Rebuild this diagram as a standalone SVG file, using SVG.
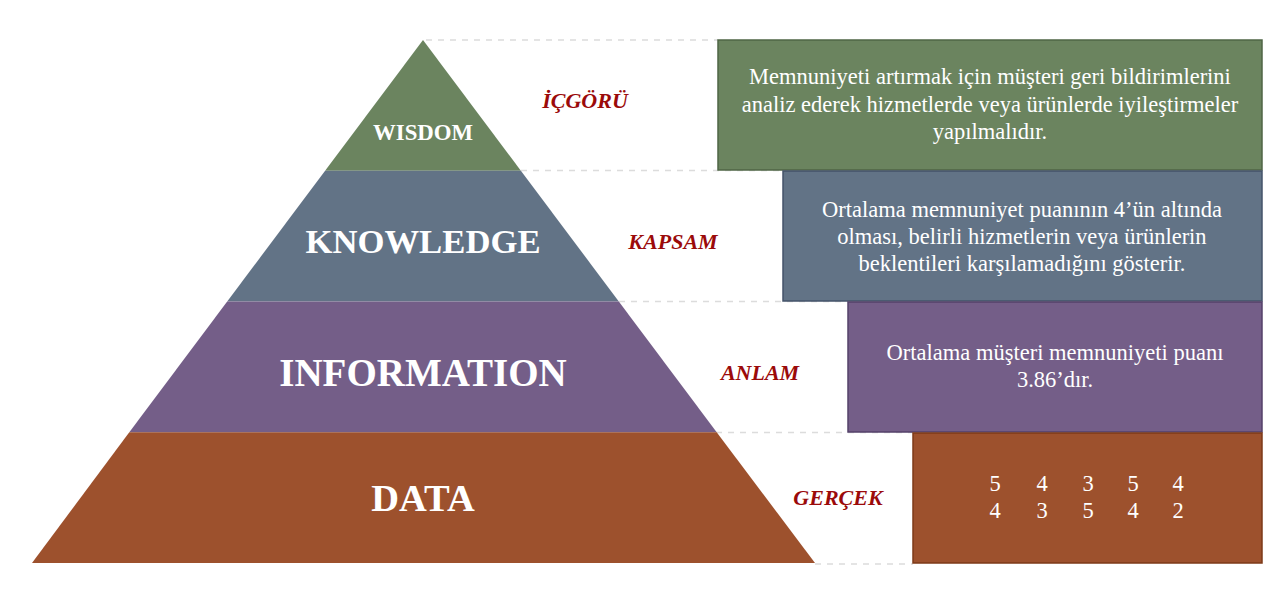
<svg xmlns="http://www.w3.org/2000/svg" width="1280" height="595" viewBox="0 0 1280 595">
  <style>
    .tier-label { font-family: "Liberation Serif", "Times New Roman", serif; font-weight: bold; fill: #ffffff; text-anchor: middle; }
    .side-label { font-family: "Liberation Serif", "Times New Roman", serif; font-weight: bold; font-style: italic; font-size: 22px; fill: #9b0a0a; text-anchor: middle; }
    .box-text { font-family: "Liberation Serif", "Times New Roman", serif; font-size: 22.5px; fill: #ffffff; text-anchor: middle; }
    .guide { stroke: #dcdcdc; stroke-width: 1.5; stroke-dasharray: 6 6; fill: none; }
    .box { stroke-width: 1.5; }
  </style>
  <rect width="1280" height="595" fill="#ffffff"/>

  <!-- dashed guide lines from the pyramid to the boxes -->
  <g id="connectors">
    <line class="guide" x1="426" y1="40" x2="718" y2="40"/>
    <line class="guide" x1="521" y1="170.5" x2="783" y2="170.5"/>
    <line class="guide" x1="619" y1="301.5" x2="848" y2="301.5"/>
    <line class="guide" x1="716" y1="432.5" x2="913" y2="432.5"/>
    <line class="guide" x1="815" y1="564" x2="913" y2="564"/>
  </g>

  <!-- pyramid tiers -->
  <g id="wisdom">
    <polygon points="423,40 520.9,170.75 325.1,170.75" fill="#6b845f"/>
    <text class="tier-label" x="423" y="140" font-size="22.8">WISDOM</text>
  </g>
  <g id="knowledge">
    <polygon points="325.1,170.75 520.9,170.75 618.8,301.5 227.2,301.5" fill="#627386"/>
    <text class="tier-label" x="423" y="253" font-size="34.7">KNOWLEDGE</text>
  </g>
  <g id="information">
    <polygon points="227.2,301.5 618.8,301.5 716.7,432.25 129.3,432.25" fill="#745e88"/>
    <text class="tier-label" x="423" y="386" font-size="39">INFORMATION</text>
  </g>
  <g id="data">
    <polygon points="129.3,432.25 716.7,432.25 815,563 32,563" fill="#9d512d"/>
    <text class="tier-label" x="423" y="511" font-size="38.5">DATA</text>
  </g>

  <!-- side labels -->
  <g id="label-icgoru"><text class="side-label" x="585" y="108">İÇGÖRÜ</text></g>
  <g id="label-kapsam"><text class="side-label" x="673" y="249">KAPSAM</text></g>
  <g id="label-anlam"><text class="side-label" x="760" y="380">ANLAM</text></g>
  <g id="label-gercek"><text class="side-label" x="838" y="505">GERÇEK</text></g>

  <!-- explanation boxes -->
  <g id="box-wisdom">
    <rect class="box" x="718" y="40" width="544" height="130" fill="#6b845f" stroke="#4f6545"/>
    <text class="box-text" x="990" y="84">Memnuniyeti artırmak için müşteri geri bildirimlerini</text>
    <text class="box-text" x="990" y="112">analiz ederek hizmetlerde veya ürünlerde iyileştirmeler</text>
    <text class="box-text" x="990" y="139">yapılmalıdır.</text>
  </g>
  <g id="box-knowledge">
    <rect class="box" x="783" y="171" width="479" height="130" fill="#627386" stroke="#44536a"/>
    <text class="box-text" x="1022" y="217">Ortalama memnuniyet puanının 4’ün altında</text>
    <text class="box-text" x="1022" y="244">olması, belirli hizmetlerin veya ürünlerin</text>
    <text class="box-text" x="1022" y="271">beklentileri karşılamadığını gösterir.</text>
  </g>
  <g id="box-information">
    <rect class="box" x="848" y="302" width="414" height="130" fill="#745e88" stroke="#54416a"/>
    <text class="box-text" x="1055" y="360">Ortalama müşteri memnuniyeti puanı</text>
    <text class="box-text" x="1055" y="387">3.86’dır.</text>
  </g>
  <g id="box-data">
    <rect class="box" x="913" y="433" width="349" height="130" fill="#9d512d" stroke="#7d3a18"/>
    <text class="box-text" y="491"><tspan x="995">5</tspan><tspan x="1042">4</tspan><tspan x="1088">3</tspan><tspan x="1133">5</tspan><tspan x="1178">4</tspan></text>
    <text class="box-text" y="518"><tspan x="995">4</tspan><tspan x="1042">3</tspan><tspan x="1088">5</tspan><tspan x="1133">4</tspan><tspan x="1178">2</tspan></text>
  </g>
</svg>
